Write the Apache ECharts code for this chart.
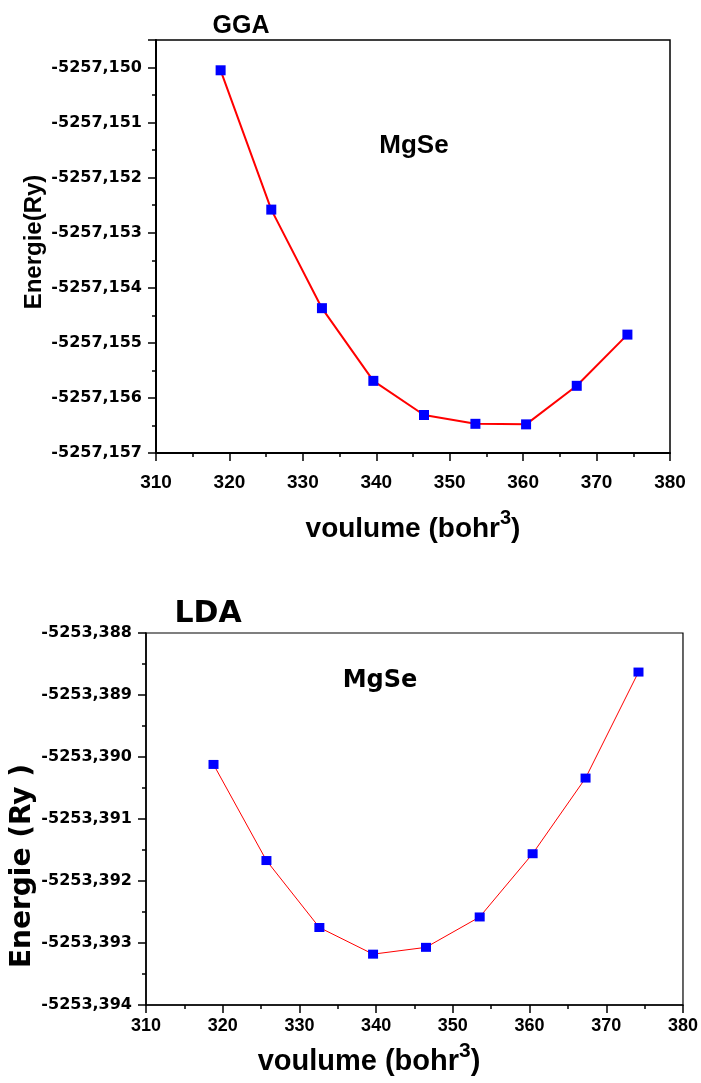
<!DOCTYPE html>
<html>
<head>
<meta charset="utf-8">
<script src="https://cdn.jsdelivr.net/npm/echarts@6/dist/echarts.min.js"></script>
<style>
  html, body { margin: 0; padding: 0; background: #ffffff; }
  #chart { width: 701px; height: 1083px; }
</style>
</head>
<body>
<div id="chart"></div>
<script>
// Cell volume (bohr^3) for each computed point
const volumes = [318.8, 325.7, 332.6, 339.6, 346.5, 353.5, 360.4, 367.3, 374.2];
// Total energy (Ry) of MgSe, GGA functional
const energyGGA = [-5257.15005, -5257.15258, -5257.15437, -5257.15569, -5257.15631,
                   -5257.15647, -5257.15648, -5257.15578, -5257.15485];
// Total energy (Ry) of MgSe, LDA functional
const energyLDA = [-5253.39012, -5253.39167, -5253.39275, -5253.39318, -5253.39307,
                   -5253.39258, -5253.39156, -5253.39034, -5253.38863];

// Axis ranges and tick steps
const volumeAxis = { min: 310, max: 380, step: 10 };
const ggaAxis = { min: -5257.157, max: -5257.1495, step: 0.001 };
const ldaAxis = { min: -5253.394, max: -5253.388, step: 0.001 };

// Titles and labels
const panelTitles = ['GGA', 'LDA'];
const compound = 'MgSe';
const xTitle = '{m|voulume (bohr}{s|3}{m|)}';
const yTitles = ['Energie(Ry)', 'Energie (Ry )'];

const ARIAL = '"Liberation Sans", Arial, sans-serif';
const DEJAVU = '"DejaVu Sans", sans-serif';

const pairs = (ys) => volumes.map((v, i) => [v, ys[i]]);
const commaFmt = (v) => v.toFixed(3).replace('.', ',');

function xAxisCfg(gridIndex, lineW, labelSize, labelMargin) {
  return {
    type: 'value', gridIndex,
    min: volumeAxis.min, max: volumeAxis.max, interval: volumeAxis.step,
    axisLine: { show: true, onZero: false, lineStyle: { color: '#000', width: lineW } },
    axisTick: { show: true, inside: false, length: 8, lineStyle: { color: '#000', width: 1.5 } },
    minorTick: { show: true, splitNumber: 2, length: 4, lineStyle: { color: '#000', width: 1.5 } },
    splitLine: { show: false },
    axisLabel: { color: '#000', fontFamily: ARIAL, fontWeight: 'bold', fontSize: labelSize, margin: labelMargin }
  };
}

function yAxisCfg(gridIndex, range, lineW, showMax) {
  return {
    type: 'value', gridIndex,
    min: range.min, max: range.max, interval: range.step,
    axisLine: { show: true, onZero: false, lineStyle: { color: '#000', width: lineW } },
    axisTick: { show: true, inside: false, length: 8, lineStyle: { color: '#000', width: 1.5 } },
    minorTick: { show: true, splitNumber: 2, length: 4, lineStyle: { color: '#000', width: 1.5 } },
    splitLine: { show: false },
    axisLabel: {
      color: '#000', fontFamily: DEJAVU, fontWeight: 'bold', fontSize: 16, margin: 14,
      showMaxLabel: showMax, formatter: commaFmt
    }
  };
}

function textEl(x, y, text, font, rotation) {
  return {
    type: 'text', x, y, rotation: rotation || 0,
    style: { text, font, fill: '#000', textAlign: 'center', textVerticalAlign: 'middle' }
  };
}

// Axis title with a raised "3"
function xTitleEl(x, y, size) {
  return {
    type: 'text', x, y,
    style: {
      text: xTitle, fill: '#000', textAlign: 'center', textVerticalAlign: 'middle',
      rich: {
        m: { fontFamily: ARIAL, fontWeight: 'bold', fontSize: size, lineHeight: 42, verticalAlign: 'middle' },
        s: { fontFamily: ARIAL, fontWeight: 'bold', fontSize: Math.round(size * 0.72), lineHeight: 20, verticalAlign: 'top' }
      }
    }
  };
}

const chart = echarts.init(document.getElementById('chart'), null, { renderer: 'canvas' });

chart.setOption({
  animation: false,
  backgroundColor: '#ffffff',
  grid: [
    { left: 156, top: 40, width: 514, height: 413, show: true, borderColor: '#000', borderWidth: 1.5, backgroundColor: 'transparent' },
    { left: 146, top: 633, width: 537, height: 372, show: true, borderColor: '#000', borderWidth: 1.2, backgroundColor: 'transparent' }
  ],
  xAxis: [
    xAxisCfg(0, 2, 19, 20),
    xAxisCfg(1, 1.6, 18, 12)
  ],
  yAxis: [
    yAxisCfg(0, ggaAxis, 2, false),
    yAxisCfg(1, ldaAxis, 1.6, true)
  ],
  series: [
    {
      name: panelTitles[0], type: 'line', xAxisIndex: 0, yAxisIndex: 0,
      data: pairs(energyGGA),
      symbol: 'rect', symbolSize: 10,
      lineStyle: { color: '#ff0000', width: 2 },
      itemStyle: { color: '#0000ff', borderWidth: 0 }
    },
    {
      name: panelTitles[1], type: 'line', xAxisIndex: 1, yAxisIndex: 1,
      data: pairs(energyLDA),
      symbol: 'rect', symbolSize: [10, 9],
      lineStyle: { color: '#ff0000', width: 1 },
      itemStyle: { color: '#0000ff', borderWidth: 0 }
    }
  ],
  graphic: [
    textEl(241, 26, panelTitles[0], 'bold 25px ' + ARIAL),
    textEl(414, 146, compound, 'bold 26px ' + ARIAL),
    textEl(34, 242, yTitles[0], 'bold 24px ' + ARIAL, Math.PI / 2),
    xTitleEl(413, 529, 28),
    textEl(208, 614, panelTitles[1], 'bold 30px ' + DEJAVU),
    textEl(380, 681, compound, 'bold 24px ' + DEJAVU),
    textEl(23, 866, yTitles[1], 'bold 28px ' + DEJAVU, Math.PI / 2),
    xTitleEl(369, 1062, 29)
  ]
});
</script>
</body>
</html>
